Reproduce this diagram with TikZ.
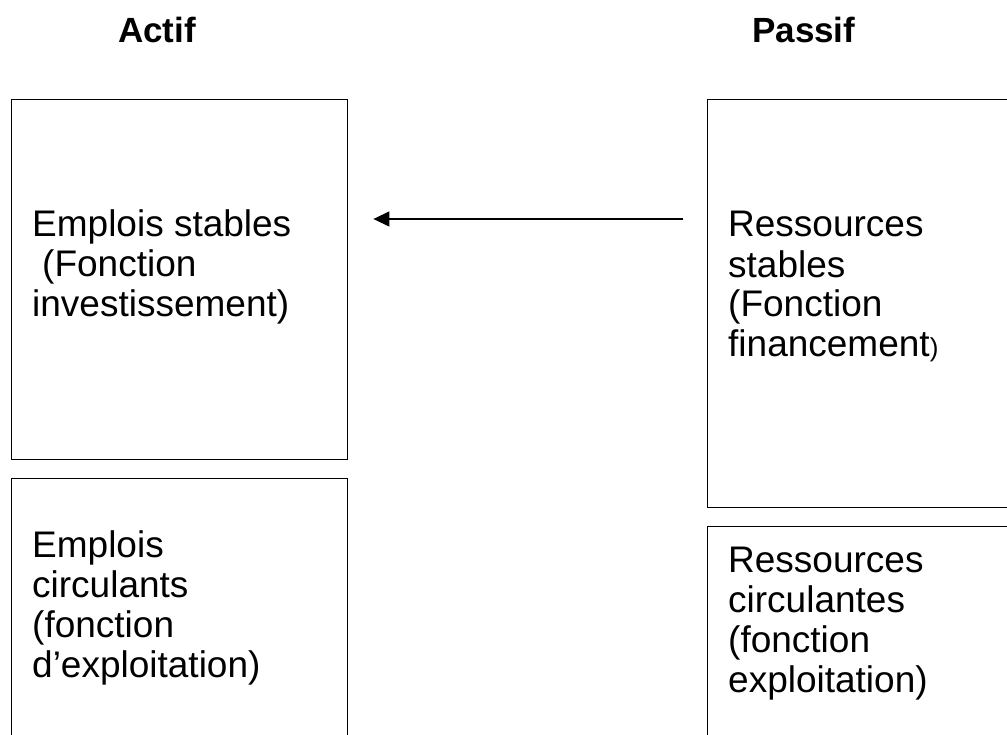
\documentclass[tikz,border=0pt]{standalone}
\usepackage{fontspec}
\setmainfont{Liberation Sans}
\usetikzlibrary{arrows.meta}
\begin{document}
\begin{tikzpicture}[x=1pt, y=-1pt, >={Triangle[length=16pt,width=15pt]},
  bilan/.style={draw, line width=1.4pt, rectangle, inner sep=0pt, anchor=north west},
  poste/.style={anchor=base west, inner sep=0pt, align=left, font=\fontsize{37}{40}\selectfont},
  titre/.style={anchor=base west, inner sep=0pt, font=\fontsize{35}{40}\selectfont\bfseries}]
\clip (0,0) rectangle (1007,735);
\node[titre] (actif) at (118,43) {Actif};
\node[titre] (passif) at (752,43) {Passif};
% cote actif (base = derniere ligne)
\node[bilan, minimum width=336pt, minimum height=360pt] (empsta) at (11,99) {};
\node[bilan, minimum width=336pt, minimum height=400pt] (empcir) at (11,478) {};
\node[poste] (empstatxt) at (32,317) {Emplois stables\\\hspace*{10pt}(Fonction\\investissement)};
\node[poste] (empcirtxt) at (32,677) {Emplois\\circulants\\(fonction\\d’exploitation)};
% cote passif
\node[bilan, minimum width=400pt, minimum height=408pt] (ressta) at (707,99) {};
\node[bilan, minimum width=400pt, minimum height=400pt] (rescir) at (707,526) {};
\node[poste] (resstatxt) at (728,357) {Ressources\\stables\\(Fonction\\financement{\fontsize{26}{40}\selectfont)}};
\node[poste] (rescirtxt) at (728,692) {Ressources\\circulantes\\(fonction\\exploitation)};
\coordinate (depart) at (683,219);
\draw[->, line width=1.4pt] (depart) -- ([xshift=25pt]empsta.east |- depart);
\end{tikzpicture}
\end{document}
